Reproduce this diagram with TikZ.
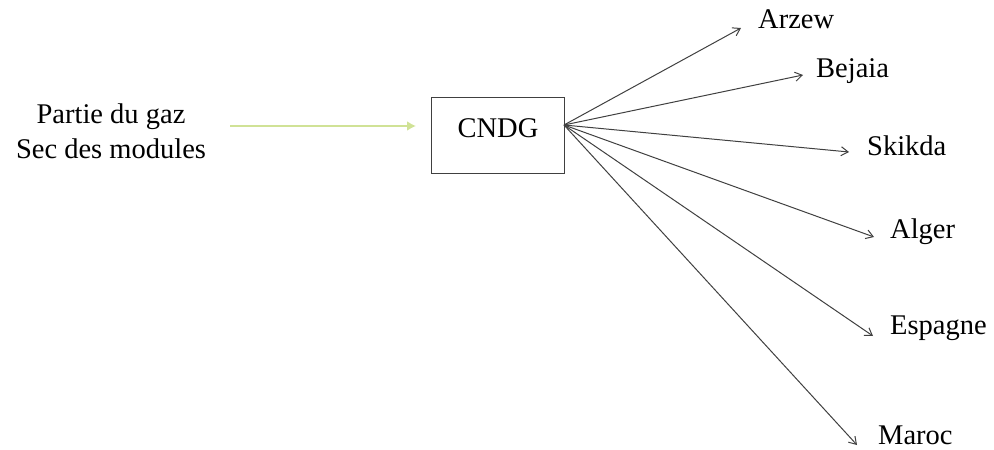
\documentclass[tikz,border=0pt]{standalone}
\usepackage{fontspec}
\setmainfont{Liberation Serif}
\usetikzlibrary{arrows.meta}
\begin{document}
\begin{tikzpicture}[x=1pt,y=-1pt,
  lbl/.style={inner sep=0pt,font=\fontsize{28.5}{34}\selectfont},
  boxst/.style={draw=black!75,line width=1pt,minimum width=133pt,minimum height=76pt,inner sep=0pt},
  fan/.style={draw=black!75,line width=1pt,-{Straight Barb[length=7pt,width=9pt,line width=1pt]}},
  feed/.style={draw={rgb,255:red,208;green,226;blue,150},line width=2.4pt,-{Latex[length=9pt,width=10pt]}}]
\useasboundingbox (0,0) rectangle (994,450);
% source text
\node[lbl,anchor=base] (l1) at (111,123) {Partie du gaz};
\node[lbl,anchor=base] (l2) at (111,158) {Sec des modules};
% central box
\node[boxst] (cndg) at (497.5,135) {};
\node[lbl,anchor=base] (cndgt) at (498,137) {CNDG};
\coordinate (in0) at (230,126);
\coordinate (in1) at (416,126);
\draw[feed] (in0) -- (in1);
\coordinate (hub) at (564,125);
% destinations
\node[lbl,anchor=base west] (arzew) at (758,28) {Arzew};
\node[lbl,anchor=base west] (bejaia) at (816,77) {Bejaia};
\node[lbl,anchor=base west] (skikda) at (867,155) {Skikda};
\node[lbl,anchor=base west] (alger) at (890,238) {Alger};
\node[lbl,anchor=base west] (espagne) at (890,334) {Espagne};
\node[lbl,anchor=base west] (maroc) at (878,444) {Maroc};
\coordinate (tArzew) at (741,28);
\coordinate (tBejaia) at (803,75);
\coordinate (tSkikda) at (849,152);
\coordinate (tAlger) at (874,237);
\coordinate (tEspagne) at (873,336);
\coordinate (tMaroc) at (857,445);
\foreach \t in {tArzew,tBejaia,tSkikda,tAlger,tEspagne,tMaroc}
  \draw[fan] (hub) -- (\t);
\end{tikzpicture}
\end{document}
